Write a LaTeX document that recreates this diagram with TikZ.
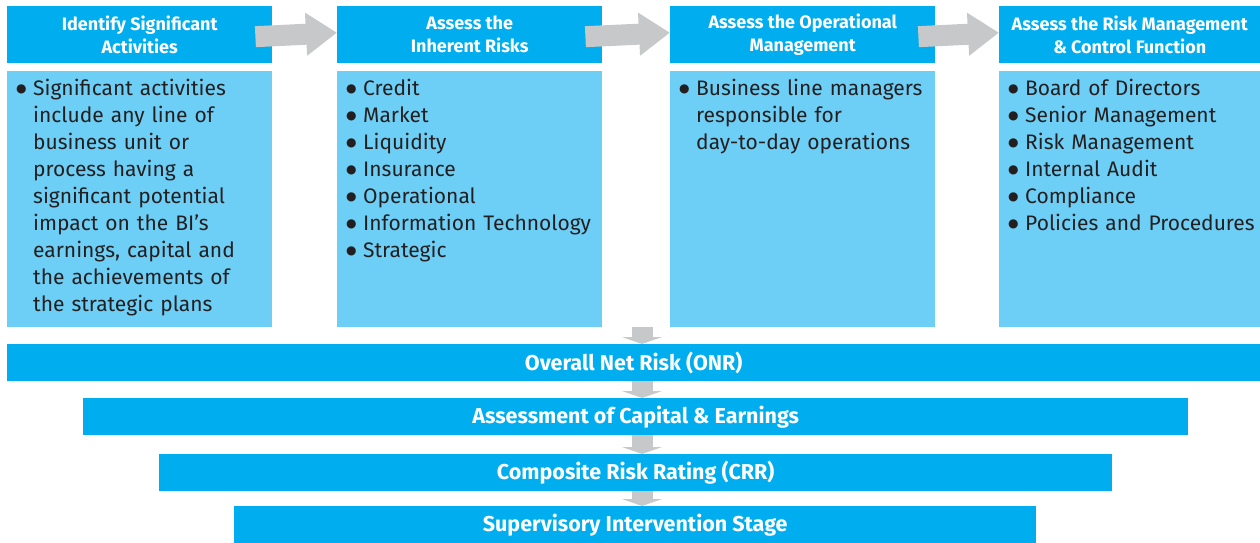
\documentclass[tikz,border=0pt]{standalone}
\usepackage{fontspec}
\setmainfont{Fira Sans}
\newfontfamily\dotfont{DejaVu Sans}
\usetikzlibrary{arrows.meta}
\definecolor{headcyan}{HTML}{00AEEF}
\definecolor{bodycyan}{HTML}{6DCFF6}
\definecolor{arrowgray}{HTML}{C7C8CA}
\definecolor{inkgray}{HTML}{231F20}
\newcommand{\bul}[1]{\par\hangindent=18pt\hangafter=1\noindent\makebox[18pt][l]{\hspace{1pt}\raisebox{3.5pt}{\dotfont\fontsize{12}{12}\selectfont ●}}#1}
\newcommand{\bodytext}[1]{\parbox[c][240pt][t]{\linewidth}{#1}}

\begin{document}
\begin{tikzpicture}[x=1pt,y=-1pt,
  head/.style={fill=headcyan,text=white,font=\fontsize{18}{23}\selectfont\bfseries,
    align=center,minimum width=265pt,minimum height=57pt,inner sep=0pt,anchor=north west},
  body/.style={fill=bodycyan,text=inkgray,font=\fontsize{21}{27}\selectfont,
    text width=249pt,inner xsep=8pt,inner ysep=8pt,anchor=north west},
  bar/.style={fill=headcyan,text=white,font=\fontsize{21.5}{24}\selectfont\bfseries,
    minimum height=37pt,inner sep=0pt,anchor=north west},
  flow/.style={draw=arrowgray,line width=21pt,-{Triangle[length=31pt,width=41pt]}},
  down/.style={draw=arrowgray,line width=21pt,-{Triangle[length=7pt,width=40pt]}}]
\useasboundingbox (0,0) rectangle (1260,543);

\node (h1) at (7,6)   [head] {Identify Significant\\Activities};
\node (h2) at (337,6) [head] {Assess the\\Inherent Risks};
\node (h3) at (670,6) [head] {Assess the Operational\\Management};
\node (h4) at (999,6) [head,minimum width=261pt] {Assess the Risk Management\\\& Control Function};

\node (c1) at (7,71)   [body] {\bodytext{\bul{Significant activities\newline include any line of\newline business unit or\newline process having a\newline significant potential\newline impact on the BI’s\newline earnings, capital and\newline the achievements of\newline the strategic plans}}};
\node (c2) at (337,71) [body] {\bodytext{\bul{Credit}\bul{Market}\bul{Liquidity}\bul{Insurance}\bul{Operational}\bul{Information Technology}\bul{Strategic}}};
\node (c3) at (670,71) [body] {\bodytext{\bul{Business line managers\newline responsible for\newline day-to-day operations}}};
\node (c4) at (999,71) [body,text width=245pt] {\bodytext{\bul{Board of Directors}\bul{Senior Management}\bul{Risk Management}\bul{Internal Audit}\bul{Compliance}\bul{\mbox{Policies and Procedures}}}};

\node (onr) at (7,344)   [bar,minimum width=1253pt] {Overall Net Risk (ONR)};
\node (ace) at (83,398)  [bar,minimum width=1105pt] {Assessment of Capital \& Earnings};
\node (crr) at (159,454) [bar,minimum width=953pt]  {Composite Risk Rating (CRR)};
\node (sis) at (234,506) [bar,minimum width=802pt]  {Supervisory Intervention Stage};

\draw [flow] ([shift={(-17,2)}]h1.east) -- ([yshift=2]h2.west);
\draw [flow] ([shift={(-17,2)}]h2.east) -- ([yshift=2]h3.west);
\draw [flow] ([shift={(-17,2)}]h3.east) -- ([yshift=2]h4.west);

\coordinate (dn) at (642,327);
\draw [down] (dn) -- (dn |- onr.north);
\draw [down] (dn |- onr.south) -- (dn |- ace.north);
\draw [down] (dn |- ace.south) -- (dn |- crr.north);
\draw [down] (dn |- crr.south) -- (dn |- sis.north);
\end{tikzpicture}
\end{document}
